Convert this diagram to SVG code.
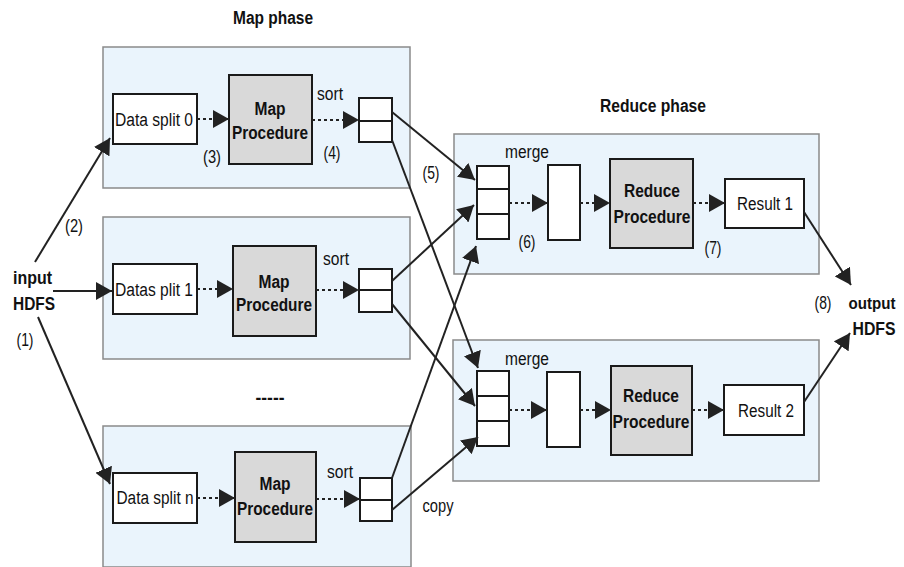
<svg xmlns="http://www.w3.org/2000/svg" width="904" height="567" viewBox="0 0 904 567">
  <style>
    text { font-family: "Liberation Sans", Arial, sans-serif; fill: #111; }
    .lbl { font-size: 18px; }
    .b { font-size: 18px; font-weight: bold; }
    .mid { text-anchor: middle; }
    .phase { fill: #eaf4fc; stroke: #8a8a8a; stroke-width: 1.5; }
    .wbox { fill: #ffffff; stroke: #1a1a1a; stroke-width: 2; }
    .proc { fill: #d9d9d9; stroke: #1a1a1a; stroke-width: 2; }
    .sep { stroke: #1a1a1a; stroke-width: 2; }
    .solid { stroke: #222; stroke-width: 2; fill: none; marker-end: url(#head); }
    .dot { stroke: #222; stroke-width: 2; fill: none; stroke-dasharray: 3 3; marker-end: url(#head); }
  </style>
  <defs>
    <marker id="head" viewBox="0 0 16 18" markerWidth="16" markerHeight="18" refX="16" refY="9" orient="auto" markerUnits="userSpaceOnUse">
      <path d="M0,0 L16,9 L0,18 z" fill="#222"/>
    </marker>
  </defs>

  <rect width="904" height="567" fill="#ffffff"/>

  <!-- phase titles -->
  <text class="b mid" x="273" y="24" textLength="80" lengthAdjust="spacingAndGlyphs">Map phase</text>
  <text class="b mid" x="653" y="112" textLength="106" lengthAdjust="spacingAndGlyphs">Reduce phase</text>

  <!-- input / output -->
  <g id="input-hdfs">
    <text class="b" x="13" y="284" textLength="39" lengthAdjust="spacingAndGlyphs">input</text>
    <text class="b" x="13" y="310" textLength="42" lengthAdjust="spacingAndGlyphs">HDFS</text>
    <text class="lbl mid" x="25" y="346" textLength="17" lengthAdjust="spacingAndGlyphs">(1)</text>
  </g>
  <g id="output-hdfs">
    <text class="b mid" x="872" y="309" style="font-size:17px" textLength="47" lengthAdjust="spacingAndGlyphs">output</text>
    <text class="b mid" x="874" y="335" textLength="43" lengthAdjust="spacingAndGlyphs">HDFS</text>
    <text class="lbl mid" x="823" y="309" textLength="17" lengthAdjust="spacingAndGlyphs">(8)</text>
  </g>

  <!-- map task 0 -->
  <g id="map0">
    <rect class="phase" x="103" y="47" width="307" height="141"/>
    <rect class="wbox" x="113" y="94" width="84" height="50"/>
    <text class="lbl mid" x="154" y="126" textLength="78" lengthAdjust="spacingAndGlyphs">Data split 0</text>
    <rect class="proc" x="229" y="75" width="83" height="89"/>
    <text class="b mid" x="270" y="115" textLength="31" lengthAdjust="spacingAndGlyphs">Map</text>
    <text class="b mid" x="270" y="139" textLength="76" lengthAdjust="spacingAndGlyphs">Procedure</text>
    <rect class="wbox" x="359" y="98" width="33" height="44"/>
    <line class="sep" x1="359" y1="121" x2="392" y2="121"/>
    <text class="lbl mid" x="330" y="100" textLength="26" lengthAdjust="spacingAndGlyphs">sort</text>
    <text class="lbl mid" x="212" y="163" textLength="18" lengthAdjust="spacingAndGlyphs">(3)</text>
    <text class="lbl mid" x="332" y="159" textLength="17" lengthAdjust="spacingAndGlyphs">(4)</text>
  </g>

  <text class="lbl mid" x="74" y="232" textLength="18" lengthAdjust="spacingAndGlyphs">(2)</text>

  <!-- map task 1 -->
  <g id="map1">
    <rect class="phase" x="103" y="217" width="307" height="142"/>
    <rect class="wbox" x="113" y="264" width="84" height="50"/>
    <text class="lbl mid" x="154" y="296" textLength="78" lengthAdjust="spacingAndGlyphs">Datas plit 1</text>
    <rect class="proc" x="233" y="246" width="83" height="90"/>
    <text class="b mid" x="274" y="288" textLength="31" lengthAdjust="spacingAndGlyphs">Map</text>
    <text class="b mid" x="274" y="311" textLength="76" lengthAdjust="spacingAndGlyphs">Procedure</text>
    <rect class="wbox" x="359" y="269" width="33" height="43"/>
    <line class="sep" x1="359" y1="290" x2="392" y2="290"/>
    <text class="lbl mid" x="336" y="265" textLength="26" lengthAdjust="spacingAndGlyphs">sort</text>
  </g>

  <text class="b mid" x="270" y="404" textLength="29" lengthAdjust="spacingAndGlyphs">-----</text>

  <!-- map task n -->
  <g id="mapn">
    <rect class="phase" x="103" y="426" width="308" height="141"/>
    <rect class="wbox" x="113" y="473" width="84" height="50"/>
    <text class="lbl mid" x="155" y="504" textLength="77" lengthAdjust="spacingAndGlyphs">Data split n</text>
    <rect class="proc" x="235" y="452" width="81" height="90"/>
    <text class="b mid" x="275" y="490" textLength="31" lengthAdjust="spacingAndGlyphs">Map</text>
    <text class="b mid" x="275" y="515" textLength="76" lengthAdjust="spacingAndGlyphs">Procedure</text>
    <rect class="wbox" x="360" y="478" width="32" height="43"/>
    <line class="sep" x1="360" y1="500" x2="392" y2="500"/>
    <text class="lbl mid" x="340" y="478" textLength="26" lengthAdjust="spacingAndGlyphs">sort</text>
    <text class="lbl mid" x="438" y="512" textLength="31" lengthAdjust="spacingAndGlyphs">copy</text>
  </g>

  <!-- reduce task 1 -->
  <g id="reduce1">
    <rect class="phase" x="454" y="134" width="365" height="140"/>
    <rect class="wbox" x="477" y="166" width="32" height="73"/>
    <line class="sep" x1="477" y1="189" x2="509" y2="189"/>
    <line class="sep" x1="477" y1="214" x2="509" y2="214"/>
    <text class="lbl mid" x="527" y="158" textLength="44" lengthAdjust="spacingAndGlyphs">merge</text>
    <rect class="wbox" x="548" y="165" width="32" height="75"/>
    <rect class="proc" x="610" y="159" width="83" height="89"/>
    <text class="b mid" x="652" y="197" textLength="56" lengthAdjust="spacingAndGlyphs">Reduce</text>
    <text class="b mid" x="652" y="223" textLength="77" lengthAdjust="spacingAndGlyphs">Procedure</text>
    <rect class="wbox" x="725" y="179" width="79" height="49"/>
    <text class="lbl mid" x="765" y="210" textLength="56" lengthAdjust="spacingAndGlyphs">Result 1</text>
    <text class="lbl mid" x="431" y="179" textLength="17" lengthAdjust="spacingAndGlyphs">(5)</text>
    <text class="lbl mid" x="527" y="248" textLength="17" lengthAdjust="spacingAndGlyphs">(6)</text>
    <text class="lbl mid" x="713" y="254" textLength="17" lengthAdjust="spacingAndGlyphs">(7)</text>
  </g>

  <!-- reduce task 2 -->
  <g id="reduce2">
    <rect class="phase" x="453" y="340" width="366" height="141"/>
    <rect class="wbox" x="477" y="371" width="32" height="75"/>
    <line class="sep" x1="477" y1="396" x2="509" y2="396"/>
    <line class="sep" x1="477" y1="421" x2="509" y2="421"/>
    <text class="lbl mid" x="527" y="365" textLength="44" lengthAdjust="spacingAndGlyphs">merge</text>
    <rect class="wbox" x="547" y="372" width="33" height="75"/>
    <rect class="proc" x="611" y="366" width="81" height="89"/>
    <text class="b mid" x="651" y="402" textLength="56" lengthAdjust="spacingAndGlyphs">Reduce</text>
    <text class="b mid" x="651" y="428" textLength="77" lengthAdjust="spacingAndGlyphs">Procedure</text>
    <rect class="wbox" x="724" y="385" width="80" height="50"/>
    <text class="lbl mid" x="766" y="417" textLength="56" lengthAdjust="spacingAndGlyphs">Result 2</text>
  </g>

  <!-- connectors -->
  <g id="connectors">
    <!-- input splits -->
    <line class="solid" x1="35" y1="262" x2="110" y2="138"/>
    <line class="solid" x1="53" y1="291" x2="112" y2="291"/>
    <line class="solid" x1="38" y1="317" x2="110" y2="484"/>
    <!-- in-task flows (map) -->
    <line class="dot" x1="197" y1="119" x2="229" y2="119"/>
    <line class="dot" x1="312" y1="120" x2="359" y2="120"/>
    <line class="dot" x1="197" y1="289" x2="233" y2="289"/>
    <line class="dot" x1="316" y1="290" x2="359" y2="290"/>
    <line class="dot" x1="197" y1="498" x2="235" y2="498"/>
    <line class="dot" x1="316" y1="499" x2="360" y2="499"/>
    <!-- shuffle / copy -->
    <line class="solid" x1="392" y1="112" x2="475" y2="180"/>
    <line class="solid" x1="392" y1="140" x2="478" y2="368"/>
    <line class="solid" x1="392" y1="281" x2="474" y2="205"/>
    <line class="solid" x1="392" y1="304" x2="475" y2="406"/>
    <line class="solid" x1="392" y1="478" x2="476" y2="246"/>
    <line class="solid" x1="392" y1="510" x2="478" y2="437"/>
    <!-- in-task flows (reduce) -->
    <line class="dot" x1="509" y1="203" x2="548" y2="203"/>
    <line class="dot" x1="580" y1="203" x2="610" y2="203"/>
    <line class="dot" x1="693" y1="203" x2="725" y2="203"/>
    <line class="dot" x1="509" y1="410" x2="547" y2="410"/>
    <line class="dot" x1="580" y1="410" x2="611" y2="410"/>
    <line class="dot" x1="692" y1="410" x2="724" y2="410"/>
    <!-- results to output -->
    <line class="solid" x1="804" y1="212" x2="851" y2="285"/>
    <line class="solid" x1="804" y1="402" x2="850" y2="333"/>
  </g>
</svg>
